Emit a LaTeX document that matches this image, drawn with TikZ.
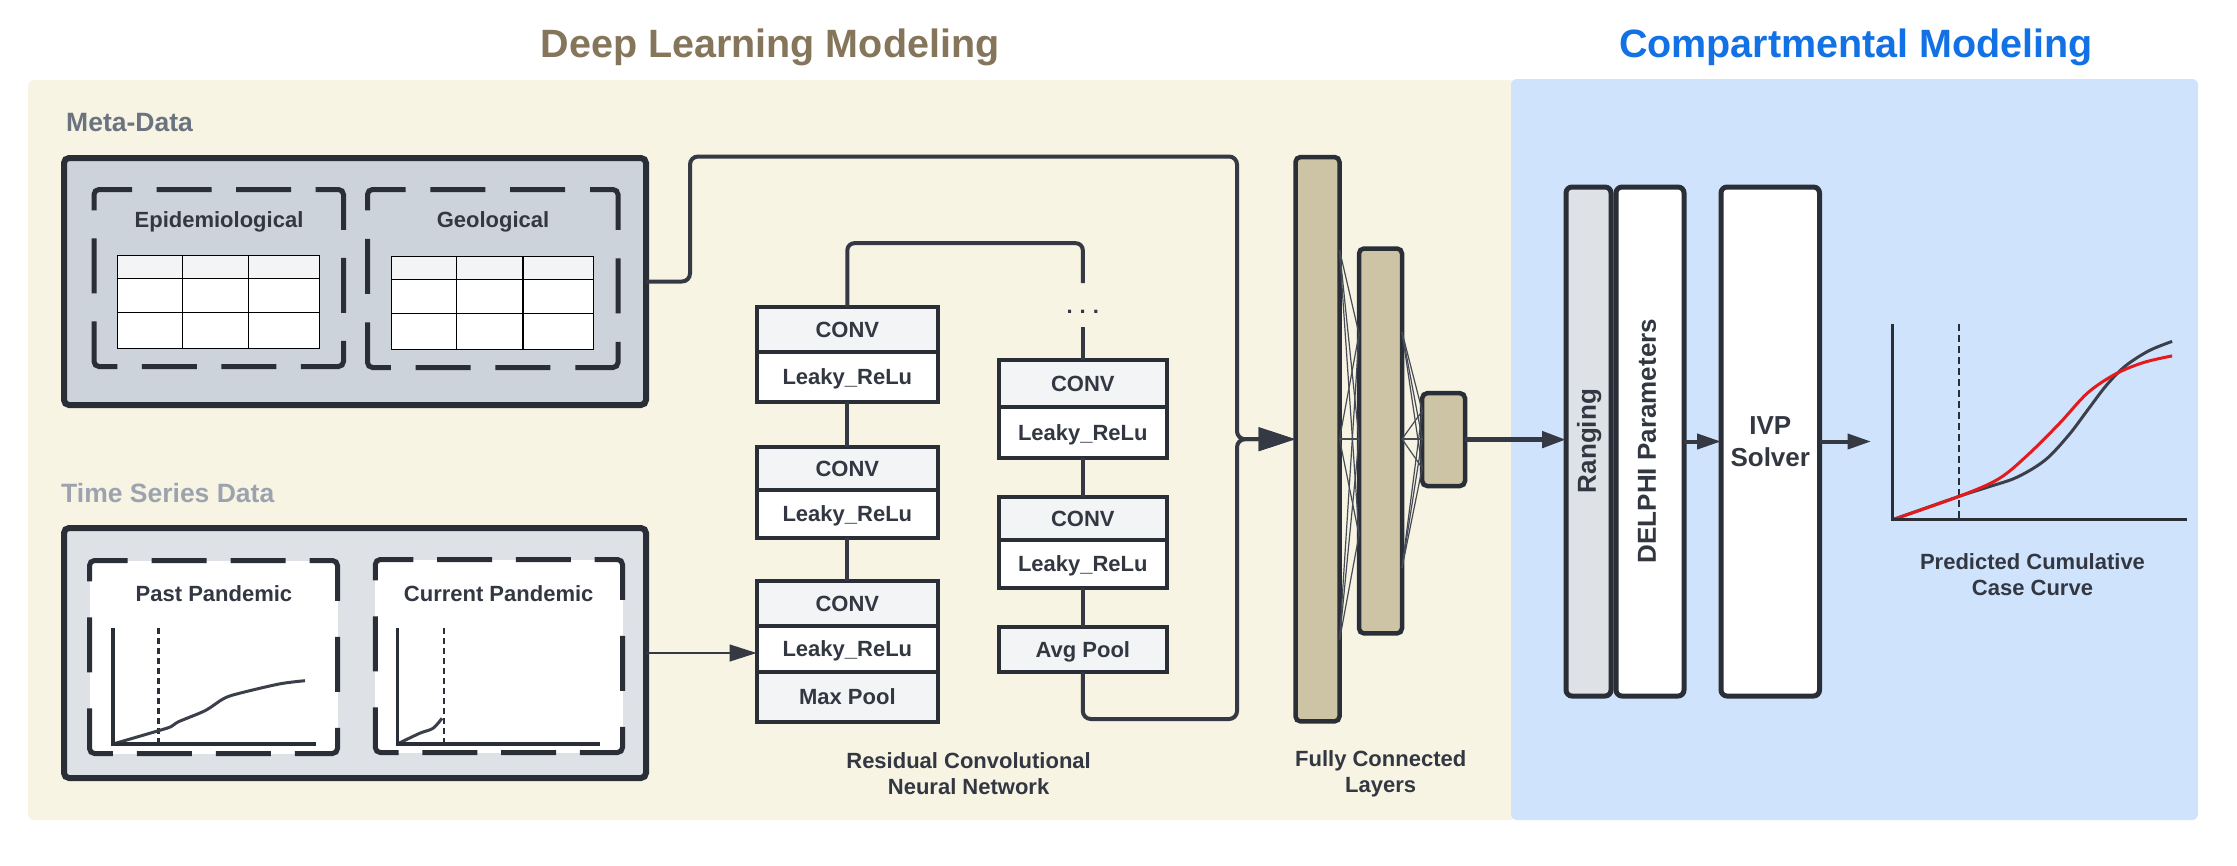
\documentclass[tikz,border=0pt]{standalone}
\usepackage{fontspec}
\setmainfont{Liberation Sans}
\usetikzlibrary{arrows.meta}
\definecolor{beige}{RGB}{247,244,228}
\definecolor{bluebg}{RGB}{207,228,252}
\definecolor{dlt}{RGB}{133,117,90}
\definecolor{cmt}{RGB}{18,113,228}
\definecolor{ink}{RGB}{42,46,54}
\definecolor{conc}{RGB}{52,57,67}
\definecolor{txt}{RGB}{50,55,65}
\definecolor{metaf}{RGB}{205,211,219}
\definecolor{timef}{RGB}{222,225,230}
\definecolor{hdr}{RGB}{243,244,246}
\definecolor{fcf}{RGB}{204,196,164}
\definecolor{grayA}{RGB}{107,114,128}
\definecolor{grayB}{RGB}{156,163,175}
\definecolor{crvc}{RGB}{58,63,74}
\definecolor{redc}{RGB}{228,26,28}
\definecolor{fcl}{RGB}{70,75,85}
\newcommand{\fsz}[2]{\fontsize{#1}{#2}\selectfont\bfseries}
\newcommand{\mytable}[2]{%
\begin{scope}[shift={(#1,#2)}]
\fill[hdr] (0,0) rectangle (202.2,22.6);
\fill[white] (0,22.6) rectangle (202.2,92.6);
\draw[line width=1.5pt, black] (0,0) rectangle (202.2,92.6) (65.2,0) -- (65.2,92.6) (131.3,0) -- (131.3,92.6) (0,22.6) -- (202.2,22.6) (0,56.6) -- (202.2,56.6);
\end{scope}}
\newcommand{\mydbox}[5]{%
\pgfmathsetmacro\mygt{((#4)-(#2)-176)/3}%
\pgfmathsetmacro\mygs{((#5)-(#3)-121)/2}%
\path[#1] (#2,#3) rectangle (#4,#5);
\draw[dbx, dash pattern=on 0pt off \mygt pt on 55pt off \mygt pt on 55pt off \mygt pt on 66pt off \mygs pt on 55pt off \mygs pt on 66pt off \mygt pt on 55pt off \mygt pt on 55pt off \mygt pt on 66pt off \mygs pt on 55pt off \mygs pt on 66pt]
 (#2+33,#3) -- (#4,#3) -- (#4,#5) -- (#2,#5) -- (#2,#3) -- cycle;}
\begin{document}
\begin{tikzpicture}[x=1pt,y=-1pt,
  box/.style={draw=ink, inner sep=0pt, outer sep=0pt, anchor=north west},
  cell/.style={box, line width=4pt, minimum width=181.3pt, text=txt, font={\fsz{22}{26}}, text height=15.75pt, text depth=0pt},
  cellr/.style={cell, minimum width=167.6pt},
  fcbox/.style={box, line width=4.5pt, fill=fcf, rounded corners=5pt},
  rbox/.style={box, line width=5pt, rounded corners=6pt},
  dbx/.style={draw=ink, line width=5pt, rounded corners=5pt, line cap=butt},
  lbl/.style={text=txt, font={\fsz{22}{26}}, inner sep=0pt},
  conn/.style={draw=conc, line width=4pt},
  axis/.style={draw=ink, line width=3.5pt},
  crv/.style={draw=crvc, line width=3pt},
  vdash/.style={draw=ink, line width=2.5pt, dash pattern=on 6pt off 4pt},
  fcline/.style={draw=fcl, line width=1.2pt},
  title/.style={font={\fsz{39.5}{44}}, inner sep=0pt}
]
\useasboundingbox (0,0) rectangle (2237,865);
\fill[white] (0,0) rectangle (2237,865);
\fill[beige, rounded corners=6pt] (28,80) rectangle (1516,820);
\fill[bluebg, rounded corners=6pt] (1511,79) rectangle (2198,820);

% titles
\node[title, text=dlt, anchor=base] (t1) at (770,57) {Deep Learning Modeling};
\node[title, text=cmt, anchor=base] (t2) at (1856,57) {Compartmental Modeling};

% section labels
\node[anchor=base west, text=grayA, font={\fsz{26.5}{30}}, inner sep=0pt] (lmeta) at (66,131) {Meta-Data};
\node[anchor=base west, text=grayB, font={\fsz{26.5}{30}}, inner sep=0pt] (ltime) at (61,502.7) {Time Series Data};

% outer data boxes
\node[box, line width=6pt, fill=metaf, rounded corners=5pt, minimum width=582pt, minimum height=247pt] (meta) at (64,158) {};
\node[box, line width=6pt, fill=timef, rounded corners=5pt, minimum width=582pt, minimum height=250pt] (time) at (64,528) {};

% dashed boxes
\mydbox{fill=none}{94}{189.5}{343.5}{366.5}
\mydbox{fill=none}{367.5}{189.5}{618}{367.5}
\mydbox{fill=white}{89.5}{560.5}{337.5}{753.5}
\mydbox{fill=white}{375.3}{559.5}{622.5}{752.5}

\node[lbl, anchor=base] (tepi) at (219,227) {Epidemiological};
\node[lbl, anchor=base] (tgeo) at (493,227) {Geological};
\node[lbl, anchor=base] (tpast) at (214,601.7) {Past Pandemic};
\node[lbl, anchor=base] (tcur) at (498.7,601.7) {Current Pandemic};

% tables
\mytable{117.4}{255.7}
\mytable{391.5}{256.7}

% small charts
\draw[vdash] (158.5,628) -- (158.5,744);
\draw[crv, line join=round] plot[smooth, tension=0.5] coordinates {(113,744) (158.5,730.7) (171,726.7) (178.6,721.7) (205,710.7) (223,699) (236.6,694) (279,684) (305,680.7)};
\draw[axis] (113,628) -- (113,744) -- (315.6,744);
\draw[vdash] (444,628) -- (444,744);
\draw[crv] plot[smooth, tension=0.5] coordinates {(397.3,744) (419.6,733.3) (433,728.3) (442,718.3)};
\draw[axis] (397.3,628) -- (397.3,744) -- (600.4,744);

% CNN blocks
\node[cell, fill=hdr, minimum height=44.8pt] (b1c) at (756.7,307.2) {CONV};
\node[cell, fill=white, minimum height=49.7pt] (b1l) at (756.7,352) {Leaky\_ReLu};
\node[cell, fill=hdr, minimum height=42.6pt] (b2c) at (756.7,446.9) {CONV};
\node[cell, fill=white, minimum height=48.3pt] (b2l) at (756.7,489.5) {Leaky\_ReLu};
\node[cell, fill=hdr, minimum height=44.8pt] (b3c) at (756.7,580.9) {CONV};
\node[cell, fill=white, minimum height=46pt] (b3l) at (756.7,625.7) {Leaky\_ReLu};
\node[cell, fill=hdr, minimum height=50pt] (b3m) at (756.7,671.7) {Max Pool};
\node[cellr, fill=hdr, minimum height=46.6pt] (b4c) at (999,360.1) {CONV};
\node[cellr, fill=white, minimum height=51.3pt] (b4l) at (999,406.7) {Leaky\_ReLu};
\node[cellr, fill=hdr, minimum height=43.1pt] (b5c) at (999,496.7) {CONV};
\node[cellr, fill=white, minimum height=48.2pt] (b5l) at (999,539.8) {Leaky\_ReLu};
\node[cellr, fill=hdr, minimum height=45.5pt] (b6) at (999,626.8) {Avg Pool};

\draw[conn] (b1l.south) -- (b2c.north);
\draw[conn] (b2l.south) -- (b3c.north);
\draw[conn] (b4l.south) -- (b5c.north);
\draw[conn] (b5l.south) -- (b6.north);

\coordinate (tj) at (1082.8,243.2);
\node[lbl] (dots) at (1082.8,312) {.\hspace{6.9pt}.\hspace{6.9pt}.};
\draw[conn, rounded corners=7pt] (b1c.north) |- (tj) -- ([yshift=29pt]dots.center);
\draw[conn] ([yshift=-15pt]dots.center) -- (b4c.north);

% FC layers
\node[fcbox, minimum width=44pt, minimum height=564.4pt] (fc1) at (1295.5,157) {};
\node[fcbox, minimum width=43pt, minimum height=384.9pt] (fc2) at (1359,248.5) {};
\node[fcbox, minimum width=42.8pt, minimum height=92.8pt] (fc3) at (1422.2,393.2) {};
\foreach \a in {250,439,640} \foreach \b in {334,439,535} \draw[fcline] (fc1.east |- 0,\a) -- (fc2.west |- 0,\b);
\foreach \a in {332,439,568} \foreach \b in {411,439,468} \draw[fcline] (fc2.east |- 0,\a) -- (fc3.west |- 0,\b);

% connectors into FC
\coordinate (m1) at (690,281.5);
\coordinate (m2) at (690,156.5);
\coordinate (m3) at (1237,156.5);
\coordinate (jn) at (1237,439.2);
\coordinate (a1) at (1082.8,719);
\coordinate (a2) at (1237,719);
\draw[conn, rounded corners=8pt, -{Triangle[length=37pt,width=23pt]}] (meta.east) -- (m1) -- (m2) -- (m3) -- (jn) -- (fc1.west);
\draw[conn, rounded corners=8pt, -{Triangle[length=37pt,width=23pt]}] (b6.south) -- (a1) -- (a2) -- (jn) -- (fc1.west);
\draw[conn, line width=2.6pt, -{Triangle[length=27pt,width=16.5pt]}] (time.east) -- (time.east -| b3l.west);

% compartmental
\node[rbox, fill=timef, minimum width=45pt, minimum height=509pt] (rng) at (1566,187) {};
\node[rbox, fill=white, minimum width=68pt, minimum height=509pt] (dlp) at (1616,187) {};
\node[rbox, fill=white, minimum width=98.5pt, minimum height=509pt, align=center, text=txt, font={\fsz{26}{31.4}}] (ivp) at (1721,187) {IVP\\Solver};
\node[lbl, rotate=90, font={\fsz{26}{30}}] (trng) at (1589.3,441) {Ranging};
\node[lbl, rotate=90, font={\fsz{26}{30}}] (tdlp) at (1647,441) {DELPHI Parameters};

\draw[conn, line width=5pt, -{Triangle[length=24pt,width=16pt]}] (fc3.east) -- (fc3.east -| rng.west);
\draw[conn, -{Triangle[length=24pt,width=15pt]}] (dlp.east) -- (ivp.west);
\coordinate (chin) at (1871,441.5);
\draw[conn, -{Triangle[length=23.5pt,width=15pt]}] (ivp.east) -- (chin);

% prediction chart
\draw[vdash, line width=2.5pt, dash pattern=on 7pt off 4pt] (1959.2,324) -- (1959.2,519.7);
\draw[crv] plot[smooth, tension=0.55] coordinates {(1892.5,519.7) (1959.2,496.3) (1988.8,486.8) (2017,477.2) (2045.2,460) (2068.7,435.1) (2087.5,410.2) (2106.3,385.4) (2125.1,366.2) (2148.6,350.9) (2172.1,341.4)};
\draw[crv, draw=redc] plot[smooth, tension=0.55] coordinates {(1892.5,519.7) (1959.2,496.3) (1998.2,479.1) (2026.4,456.2) (2059.3,423.6) (2087.5,393) (2115.7,373.9) (2143.9,362.4) (2172.1,355.9)};
\draw[axis] (1892.5,324) -- (1892.5,519.7) -- (2187,519.7);

% captions (anchor=base is the last line's baseline)
\node[lbl, align=center, anchor=base] (tcnn) at (968.6,794.8) {Residual Convolutional\\Neural Network};
\node[lbl, align=center, anchor=base] (tfc) at (1380.7,792) {Fully Connected\\Layers};
\node[lbl, align=center, anchor=base, font={\fsz{22}{26.8}}] (tpred) at (2032.5,595.8) {Predicted Cumulative\\Case Curve};
\end{tikzpicture}
\end{document}
